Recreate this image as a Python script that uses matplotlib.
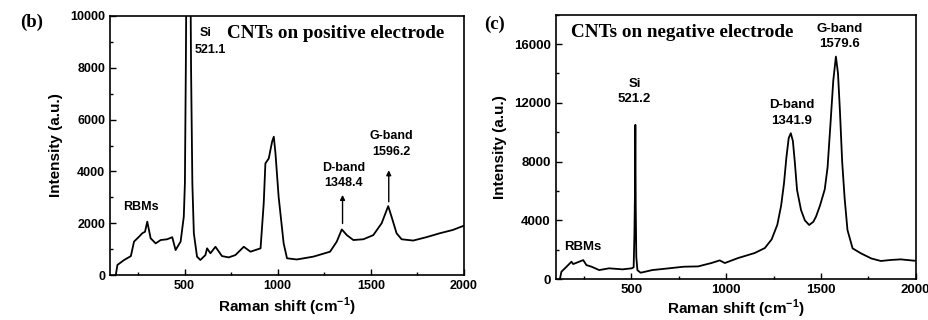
import matplotlib
matplotlib.use("Agg")
import matplotlib.pyplot as plt
from matplotlib.ticker import MultipleLocator

plt.rcParams['font.family'] = 'Liberation Sans'
plt.rcParams['font.weight'] = 'bold'
plt.rcParams['mathtext.fontset'] = 'custom'
plt.rcParams['mathtext.rm'] = 'Liberation Sans:bold'
plt.rcParams['mathtext.bf'] = 'Liberation Sans:bold'

# spectrum on positive electrode (b)
pos_shift = [131, 140, 176, 212, 229, 256, 273, 288, 300, 318, 345, 372, 407, 434,
             452, 479, 496, 502, 507, 514, 521, 528, 535, 542, 550, 567, 585, 612,
             621, 639, 666, 701, 737, 773, 818, 854, 908, 925, 934, 952, 970, 979,
             988, 1005, 1032, 1050, 1103, 1192, 1281, 1317, 1344, 1371, 1406, 1460,
             1513, 1558, 1575, 1593, 1611, 1638, 1665, 1727, 1798, 1869, 1940, 1994, 2000]
pos_int = [0, 390, 580, 730, 1290, 1480, 1610, 1670, 2060, 1420, 1220, 1350, 1380, 1460,
           965, 1290, 2250, 3540, 8000, 16000, 22000, 16000, 8000, 3540, 1610, 710, 580, 770,
           1030, 840, 1090, 730, 680, 770, 1090, 900, 1030, 2770, 4310, 4500, 5150, 5340,
           4700, 3020, 1220, 645, 600, 710, 900, 1290, 1760, 1540, 1350, 1380,
           1540, 2000, 2320, 2660, 2250, 1610, 1380, 1330, 1460, 1610, 1740, 1890, 1900]

# spectrum on negative electrode (c)
neg_shift = [123, 131, 158, 184, 193, 211, 246, 263, 290, 330, 382, 453, 502, 512,
             516, 519, 521, 523, 526, 532, 549, 610, 698, 777, 852, 922, 966, 993,
             1063, 1150, 1204, 1240, 1270, 1290, 1305, 1318, 1330, 1341, 1352, 1362,
             1374, 1395, 1415, 1438, 1460, 1474, 1495, 1520, 1535, 1550, 1565, 1579,
             1590, 1600, 1612, 1625, 1640, 1667, 1711, 1766, 1816, 1870, 1921, 1991, 2000]
neg_int = [0, 500, 840, 1180, 1020, 1110, 1290, 950, 840, 610, 730, 660, 730, 800,
           3000, 6000, 10500, 5000, 1500, 600, 430, 610, 730, 840, 860, 1090, 1270, 1090,
           1430, 1770, 2110, 2700, 3700, 5000, 6500, 8300, 9600, 9930, 9400, 8000,
           6060, 4700, 4000, 3680, 3900, 4250, 5000, 6100, 7600, 10500, 13500, 15150,
           14000, 11500, 8000, 5500, 3340, 2090, 1750, 1400, 1230, 1300, 1340, 1250, 1250]

fig = plt.figure(figsize=(9.29, 3.2), dpi=100)
ax1 = fig.add_axes([0.1184, 0.1406, 0.3811, 0.8094])
ax2 = fig.add_axes([0.598, 0.128, 0.3877, 0.826])

ax1.plot(pos_shift, pos_int, color='black', lw=1.3)
ax2.plot(neg_shift, neg_int, color='black', lw=1.3)

ax1.set_xlim(100, 2000)
ax1.set_ylim(0, 10000)
ax2.set_xlim(100, 2000)
ax2.set_ylim(0, 18000)

for ax, ymaj, ymin, fs, pad in [(ax1, 2000, 1000, 9, 3), (ax2, 4000, 2000, 9.5, 1)]:
    ax.xaxis.set_major_locator(MultipleLocator(500))
    ax.xaxis.set_minor_locator(MultipleLocator(250))
    ax.yaxis.set_major_locator(MultipleLocator(ymaj))
    ax.yaxis.set_minor_locator(MultipleLocator(ymin))
    ax.tick_params(which='both', direction='in', labelsize=fs, width=1)
    ax.tick_params(which='major', length=4)
    ax.tick_params(which='minor', length=2.5)
    for s in ax.spines.values():
        s.set_linewidth(1.2)
    ax.set_xlabel(r'Raman shift (cm$^{\mathbf{-1}}$)', fontsize=11, fontweight='bold', labelpad=pad)
    ax.set_ylabel('Intensity (a.u.)', fontsize=11, fontweight='bold', labelpad=5)

# panel (b) texts
ax1.text(730, 9330, 'CNTs on positive electrode', family='Liberation Serif',
         fontsize=13.8, fontweight='bold', va='center', ha='left')
fig.text(0.022, 0.93, '(b)', family='Liberation Serif', fontsize=13.5, fontweight='bold', va='center')
ax1.text(614, 9330, 'Si', fontsize=9, ha='center', va='center')
ax1.text(637, 8690, '521.1', fontsize=9, ha='center', va='center')
ax1.text(267, 2640, 'RBMs', fontsize=9, ha='center', va='center')
ax1.text(1352, 4130, 'D-band', fontsize=9, ha='center', va='center')
ax1.text(1352, 3550, '1348.4', fontsize=9, ha='center', va='center')
ax1.text(1611, 5380, 'G-band', fontsize=9, ha='center', va='center')
ax1.text(1611, 4760, '1596.2', fontsize=9, ha='center', va='center')
ax1.annotate('', xy=(1348, 3200), xytext=(1348, 1880),
             arrowprops=dict(arrowstyle='-|>', color='black', lw=1, mutation_scale=7))
ax1.annotate('', xy=(1596, 4150), xytext=(1596, 2720),
             arrowprops=dict(arrowstyle='-|>', color='black', lw=1, mutation_scale=7))

# panel (c) texts
ax2.text(184, 16800, 'CNTs on negative electrode', family='Liberation Serif',
         fontsize=13.8, fontweight='bold', va='center', ha='left')
fig.text(0.521, 0.925, '(c)', family='Liberation Serif', fontsize=13.5, fontweight='bold', va='center')
ax2.text(517, 13280, 'Si', fontsize=9.5, ha='center', va='center')
ax2.text(517, 12260, '521.2', fontsize=9.5, ha='center', va='center')
ax2.text(245, 2200, 'RBMs', fontsize=9.5, ha='center', va='center')
ax2.text(1347, 11850, 'D-band', fontsize=9.5, ha='center', va='center')
ax2.text(1347, 10780, '1341.9', fontsize=9.5, ha='center', va='center')
ax2.text(1596, 17030, 'G-band', fontsize=9.5, ha='center', va='center')
ax2.text(1596, 15990, '1579.6', fontsize=9.5, ha='center', va='center')

fig.savefig('out.png', dpi=100)
